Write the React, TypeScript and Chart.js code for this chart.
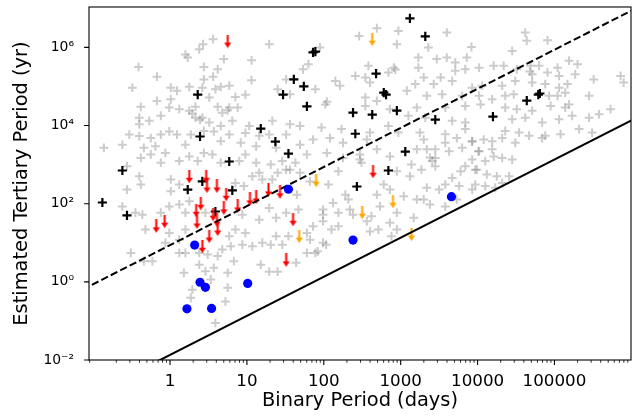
import React, { useEffect, useRef } from 'react';
import { Chart, registerables } from 'chart.js';

Chart.register(...registerables);

// ---- data (log10 of binary period in days, log10 of tertiary period in years) ----
const grayLogBinaryDays = [
  0.56,0.43,0.38,1.29,0.20,0.23,0.70,1.06,-0.41,0.44,
  0.62,-0.17,0.44,0.56,1.06,-0.49,0.01,0.25,0.42,0.66,
  0.77,0.59,0.09,1.40,1.51,-0.17,0.01,-0.38,-0.01,0.12,
  0.25,0.33,0.51,0.85,0.98,0.77,0.88,0.62,-0.40,-0.27,
  -0.12,0.33,0.42,0.51,0.68,0.75,-0.40,0.44,0.66,0.81,
  1.03,1.33,1.16,0.29,0.39,
  -0.86,-0.62,-0.53,-0.40,-0.25,-0.34,-0.19,-0.12,-0.01,0.09,
  0.20,0.27,0.57,0.66,0.77,0.92,0.98,1.12,1.29,1.38,
  1.51,1.46,-0.38,-0.25,-0.06,-0.12,-0.40,-0.56,0.01,0.12,
  0.25,0.36,0.44,0.55,0.66,0.90,0.98,1.12,1.16,1.31,
  1.40,1.51,-0.56,-0.38,0.01,0.12,0.85,0.96,1.07,1.20,
  1.33,-0.62,-0.45,-0.36,-0.12,-0.01,0.12,0.25,0.20,0.46,
  0.94,1.16,1.29,1.38,1.51,-0.51,-0.32,-0.01,0.20,0.12,
  0.77,0.85,0.98,1.07,1.20,1.38,1.46,0.68,0.62,0.20,
  -0.34,-0.23,-0.06,0.12,0.38,0.49,0.38,0.46,0.57,0.18,
  0.79,0.94,0.83,0.75,0.53,0.29,0.27,0.75,0.72,0.59,
  1.18,1.29,1.40,1.64,1.92,2.03,1.31,
  2.46,2.69,2.97,2.95,3.36,3.23,3.23,2.91,2.84,2.58,
  2.54,2.60,2.41,2.15,2.21,1.80,1.73,1.95,1.56,1.89,
  2.02,2.54,2.69,2.54,2.86,3.08,3.19,3.30,3.43,3.34,
  3.21,3.10,3.32,1.56,1.69,1.97,2.23,2.60,2.84,2.97,
  3.25,2.04,2.93,
  3.60,3.92,4.62,4.64,4.91,4.45,3.47,3.60,3.71,3.86,
  3.71,3.84,4.02,4.21,4.34,4.51,4.69,4.80,5.04,5.19,
  5.30,4.71,4.91,5.06,5.27,5.51,5.86,5.90,3.52,3.67,
  3.93,4.06,4.32,4.49,4.71,4.88,5.06,5.17,3.54,3.80,
  4.02,4.19,4.36,4.47,4.93,5.04,5.14,5.19,5.45,4.95,
  5.14,3.58,3.84,4.04,4.36,4.51,4.71,3.67,3.84,4.45,
  4.62,4.84,5.06,5.23,5.45,5.58,5.73,3.58,3.84,4.36,
  4.54,4.67,4.88,5.08,5.32,5.49,4.68,
  4.84,4.49,4.32,4.19,4.08,3.93,3.73,3.58,3.45,3.63,
  3.80,4.02,4.19,4.32,4.21,4.10,3.93,4.45,3.45,3.45,
  3.84,3.99,4.12,4.25,4.41,4.32,3.78,3.67,3.58,3.50,
  3.76,3.97,3.58,3.73,3.93,4.23,4.10,3.93,4.01,3.97,
  1.69,1.86,2.08,2.25,2.56,1.78,2.04,2.25,2.47,2.69,
  2.86,2.49,2.19,2.06,1.63,1.56,1.69,1.82,1.65,1.67,
  1.99,2.12,2.19,2.28,2.32,2.34,1.99,1.86,1.78,1.54,
  1.82,1.78,2.10,2.19,2.56,2.71,2.62,2.86,2.73,2.95,
  2.69,2.86,3.04,2.78,3.12,2.95,3.14,3.27,3.41,3.34,
  3.21,3.30,3.34,3.30,3.21,3.38,3.17,2.95,2.60,2.88,
  2.38,1.99,1.89,2.47,3.38,1.99,
];
const grayLogTertiaryYears = [
  6.21,6.08,5.95,6.08,5.82,5.74,5.70,5.67,5.50,5.50,
  5.44,5.25,5.18,5.25,5.16,4.97,4.97,4.99,4.97,4.99,
  5.02,4.93,4.89,4.93,5.18,4.63,4.67,4.48,4.46,4.42,
  4.38,4.48,4.72,4.73,4.79,4.46,4.46,4.48,4.20,4.12,
  4.25,4.20,4.20,4.08,4.33,4.39,4.03,3.86,3.99,4.12,
  3.99,4.12,3.74,4.31,4.15,
  3.43,3.51,3.77,3.73,3.68,3.43,3.47,3.77,3.85,3.77,
  3.51,3.77,3.85,3.60,3.77,3.56,3.81,3.47,3.77,3.43,
  3.77,3.09,3.17,3.26,3.30,3.05,2.70,2.96,2.62,3.09,
  3.21,3.09,3.30,3.26,3.05,3.09,3.26,3.05,2.79,3.00,
  2.79,2.87,2.36,2.49,2.32,2.49,2.53,2.45,2.70,2.62,
  2.62,1.93,1.77,1.72,1.77,1.93,1.98,2.06,1.77,1.77,
  1.72,1.59,1.89,1.64,1.77,0.74,1.34,1.25,1.34,1.08,
  1.17,1.34,1.25,0.91,1.00,1.17,0.95,0.83,0.66,0.74,
  0.53,0.53,1.00,0.74,0.74,0.70,0.44,0.27,0.36,0.23,
  0.91,0.95,0.53,0.23,0.06,-0.20,-0.41,-0.15,-0.50,-1.05,
  0.44,0.26,0.26,0.49,0.78,0.95,0.95,
  6.29,6.49,6.42,6.08,6.00,5.74,5.48,5.48,5.36,5.53,
  5.23,5.10,5.27,5.14,5.02,5.57,5.44,6.00,4.80,4.93,
  4.54,4.72,4.63,4.50,4.42,4.89,5.06,5.23,5.06,4.76,
  4.46,4.25,4.20,4.03,3.99,3.95,3.91,3.82,3.99,3.82,
  3.82,4.61,5.43,
  6.38,6.01,6.38,6.17,6.18,5.91,5.70,5.74,5.61,5.74,
  5.40,5.44,5.48,5.53,5.53,5.44,5.53,5.53,5.48,5.66,
  5.57,5.31,5.36,5.27,5.31,5.18,5.27,5.10,5.23,5.14,
  4.97,5.02,5.02,5.14,5.10,5.06,4.97,5.06,4.80,4.76,
  4.76,4.67,4.76,4.80,4.76,4.76,4.84,4.54,4.76,4.50,
  4.46,4.46,4.50,4.54,4.46,4.42,4.38,4.12,4.08,4.16,
  4.20,4.08,4.16,4.25,4.20,4.29,4.42,3.78,3.91,3.86,
  3.82,3.74,3.74,3.78,3.91,3.82,5.38,
  3.68,3.56,3.68,3.60,3.64,3.60,3.68,3.56,3.39,3.34,
  3.43,3.34,3.39,3.17,3.21,3.09,3.13,3.13,3.17,2.96,
  2.96,2.87,2.75,2.70,2.70,2.53,2.83,2.66,2.49,2.36,
  2.45,2.49,1.93,2.11,2.36,2.41,2.45,3.59,3.34,2.87,
  3.51,3.64,3.68,3.56,3.64,3.26,3.30,3.17,3.26,3.39,
  3.21,3.05,2.83,2.49,3.05,2.87,2.79,2.57,2.23,1.85,
  1.85,2.02,1.77,2.23,2.11,1.85,1.55,1.42,1.25,1.17,
  1.08,0.74,1.34,1.42,1.55,1.34,1.68,1.51,1.93,1.77,
  2.23,2.36,2.19,2.49,2.70,2.83,3.00,2.87,3.09,3.39,
  3.39,3.64,2.41,2.11,2.11,1.98,1.64,1.34,1.29,1.17,
  1.72,1.00,0.74,3.13,3.18,1.72,
];

const blackLogBinaryDays = [
  -0.88,-0.62,-0.56,0.23,0.36,0.39,0.42,0.59,0.77,0.81,
  1.18,1.37,1.47,1.54,1.61,1.74,1.78,1.89,2.38,2.41,
  2.43,2.63,2.68,2.78,2.81,2.95,2.84,3.06,3.12,3.32,
  3.45,4.20,4.64,4.81,4.79,1.86,
];
const blackLogTertiaryYears = [
  2.03,2.85,1.70,2.36,4.79,3.72,2.57,1.80,3.08,2.34,
  3.92,3.59,4.79,3.28,5.18,5.00,4.49,5.89,4.33,3.79,
  2.44,4.28,5.33,4.84,4.79,4.38,2.85,3.33,6.74,6.28,
  4.15,4.23,4.64,4.82,4.79,5.87,
];

const redLogBinaryDays = [
  0.75,0.25,0.47,0.48,0.61,0.73,0.40,0.34,0.56,0.70,
  0.88,1.04,1.12,1.28,1.43,0.35,0.61,0.62,0.51,0.42,
  -0.18,-0.07,1.60,1.51,2.64,
];
const redLogTertiaryYears = [
  6.15,2.69,2.69,2.44,2.44,2.23,2.00,1.82,1.72,1.88,
  1.93,2.11,2.16,2.34,2.29,1.52,1.57,1.34,1.16,0.90,
  1.42,1.54,1.59,0.55,2.82,
];

const orangeLogBinaryDays = [2.63, 1.90, 2.90, 2.50, 1.68, 3.14];
const orangeLogTertiaryYears = [6.20, 2.59, 2.05, 1.77, 1.16, 1.21];

const blueLogBinaryDays = [1.54, 3.66, 2.38, 0.32, 0.39, 0.46, 1.01, 0.22, 0.54];
const blueLogTertiaryYears = [2.37, 2.18, 1.07, 0.94, -0.01, -0.14, -0.04, -0.69, -0.68];

// reference lines (slope 1 in log-log)
const dashedLineDays = [0.01, 1e7];
const dashedLineYears = [0.087, 8.7e7];
const solidLineDays = [0.01, 1e7];
const solidLineYears = [1.35e-4, 1.35e5];

// axes
const xRange = [0.0883, 9.9e5];
const yRange = [0.01, 1.08e7];
const xMajorTicks = [1, 10, 100, 1000, 10000, 100000];
const yMajorTicks = [0.01, 1, 100, 10000, 1000000];
const xTitle = 'Binary Period (days)';
const yTitle = 'Estimated Tertiary Period (yr)';

const SUP: Record<string, string> = {
  '-': '\u207B', '0': '\u2070', '1': '\u00B9', '2': '\u00B2', '3': '\u00B3',
  '4': '\u2074', '5': '\u2075', '6': '\u2076', '7': '\u2077', '8': '\u2078', '9': '\u2079',
};
const sup = (n: number) => String(n).split('').map((c) => SUP[c] || c).join('');

const toPoints = (lp: number[], lt: number[]) =>
  lp.map((p, i) => ({ x: Math.pow(10, p), y: Math.pow(10, lt[i]) }));
const toLine = (xs: number[], ys: number[]) => xs.map((x, i) => ({ x, y: ys[i] }));

function makeArrow(color: string) {
  const c = document.createElement('canvas');
  c.width = 9;
  c.height = 14;
  const g = c.getContext('2d')!;
  g.fillStyle = color;
  g.fillRect(3.5, 0, 2, 9);
  g.beginPath();
  g.moveTo(1, 8);
  g.lineTo(8, 8);
  g.lineTo(4.5, 13.5);
  g.closePath();
  g.fill();
  return c;
}

const zeroPadding = (s: any) => {
  s.paddingTop = 0;
  s.paddingBottom = 0;
  s.paddingLeft = 0;
  s.paddingRight = 0;
};

const framePlugin = {
  id: 'frameTicks',
  afterDraw(chart: any) {
    const { ctx, chartArea: a, scales } = chart;
    const xs = scales.x;
    const ys = scales.y;
    ctx.save();
    ctx.strokeStyle = '#000';
    ctx.lineWidth = 1.1;
    ctx.strokeRect(a.left, a.top, a.right - a.left, a.bottom - a.top);
    ctx.beginPath();
    for (const v of xMajorTicks) {
      const px = xs.getPixelForValue(v);
      ctx.moveTo(px, a.bottom);
      ctx.lineTo(px, a.bottom + 4.9);
    }
    for (const v of yMajorTicks) {
      const py = ys.getPixelForValue(v);
      ctx.moveTo(a.left, py);
      ctx.lineTo(a.left - 4.9, py);
    }
    ctx.stroke();
    ctx.lineWidth = 0.8;
    ctx.beginPath();
    for (let e = -2; e <= 6; e++) {
      for (let m = 2; m <= 9; m++) {
        const v = m * Math.pow(10, e);
        if (v < xRange[0] || v > xRange[1]) continue;
        const px = xs.getPixelForValue(v);
        ctx.moveTo(px, a.bottom);
        ctx.lineTo(px, a.bottom + 2.8);
      }
    }
    ctx.stroke();
    ctx.restore();
  },
};

export default function App() {
  const ref = useRef<HTMLCanvasElement | null>(null);

  useEffect(() => {
    if (!ref.current) return;
    Chart.defaults.font.family = "'DejaVu Sans'";
    Chart.defaults.color = '#000';
    const redArrow = makeArrow('#ff0000');
    const orangeArrow = makeArrow('#ffa500');

    const chart = new Chart(ref.current, {
      type: 'scatter',
      data: {
        datasets: [
          {
            label: 'gray',
            data: toPoints(grayLogBinaryDays, grayLogTertiaryYears),
            pointStyle: 'cross',
            pointRadius: 4.4,
            borderWidth: 2,
            borderColor: 'rgba(128,128,128,0.4)',
            backgroundColor: 'rgba(128,128,128,0.4)',
            order: 5,
          },
          {
            label: 'black',
            data: toPoints(blackLogBinaryDays, blackLogTertiaryYears),
            pointStyle: 'cross',
            pointRadius: 4.6,
            borderWidth: 2.2,
            borderColor: '#000',
            backgroundColor: '#000',
            order: 4,
          },
          {
            label: 'orange',
            data: toPoints(orangeLogBinaryDays, orangeLogTertiaryYears),
            pointStyle: orangeArrow as any,
            pointRadius: 5,
            order: 3,
          },
          {
            label: 'red',
            data: toPoints(redLogBinaryDays, redLogTertiaryYears),
            pointStyle: redArrow as any,
            pointRadius: 5,
            order: 2,
          },
          {
            label: 'dashed',
            type: 'line',
            data: toLine(dashedLineDays, dashedLineYears),
            borderColor: '#000',
            borderWidth: 2,
            borderDash: [7.4, 3.2],
            pointRadius: 0,
            fill: false,
            order: 1,
          } as any,
          {
            label: 'solid',
            type: 'line',
            data: toLine(solidLineDays, solidLineYears),
            borderColor: '#000',
            borderWidth: 2,
            pointRadius: 0,
            fill: false,
            order: 1,
          } as any,
          {
            label: 'blue',
            data: toPoints(blueLogBinaryDays, blueLogTertiaryYears),
            pointStyle: 'circle',
            pointRadius: 4.6,
            borderWidth: 0,
            backgroundColor: '#0000ff',
            borderColor: '#0000ff',
            order: 0,
          },
        ],
      },
      options: {
        animation: false,
        responsive: false,
        devicePixelRatio: 1,
        events: [],
        layout: { autoPadding: false, padding: { top: 7, right: 1, bottom: 0, left: 0 } },
        plugins: { legend: { display: false }, tooltip: { enabled: false } },
        scales: {
          x: {
            type: 'logarithmic',
            min: xRange[0],
            max: xRange[1],
            grid: { display: false, drawTicks: false, tickLength: 0 },
            border: { display: false },
            afterBuildTicks: (s: any) => {
              s.ticks = xMajorTicks.map((v) => ({ value: v }));
            },
            afterFit: (s: any) => {
              s.height = 56;
              zeroPadding(s);
            },
            ticks: {
              autoSkip: false,
              maxRotation: 0,
              padding: 12,
              font: { size: 16.7 },
              color: '#000',
              callback: (v: any) => String(v),
            },
            title: {
              display: true,
              text: xTitle,
              font: { size: 19.4 },
              color: '#000',
              padding: { top: 0, bottom: 3 },
            },
          },
          y: {
            type: 'logarithmic',
            min: yRange[0],
            max: yRange[1],
            grid: { display: false, drawTicks: false, tickLength: 0 },
            border: { display: false },
            afterBuildTicks: (s: any) => {
              s.ticks = yMajorTicks.map((v) => ({ value: v }));
            },
            afterFit: (s: any) => {
              s.width = 89;
              zeroPadding(s);
            },
            ticks: {
              autoSkip: false,
              padding: 15,
              font: { size: 13.9 },
              color: '#000',
              callback: (v: any) => '10' + sup(Math.round(Math.log10(Number(v)))),
            },
            title: {
              display: true,
              text: yTitle,
              font: { size: 19.4 },
              color: '#000',
              padding: { top: 10.8, bottom: 0 },
            },
          },
        },
      },
      plugins: [framePlugin],
    } as any);

    return () => chart.destroy();
  }, []);

  return (
    <div style={{ position: 'fixed', left: 0, top: 0, width: 632, height: 416, background: '#fff' }}>
      <canvas ref={ref} width={632} height={416} />
    </div>
  );
}
